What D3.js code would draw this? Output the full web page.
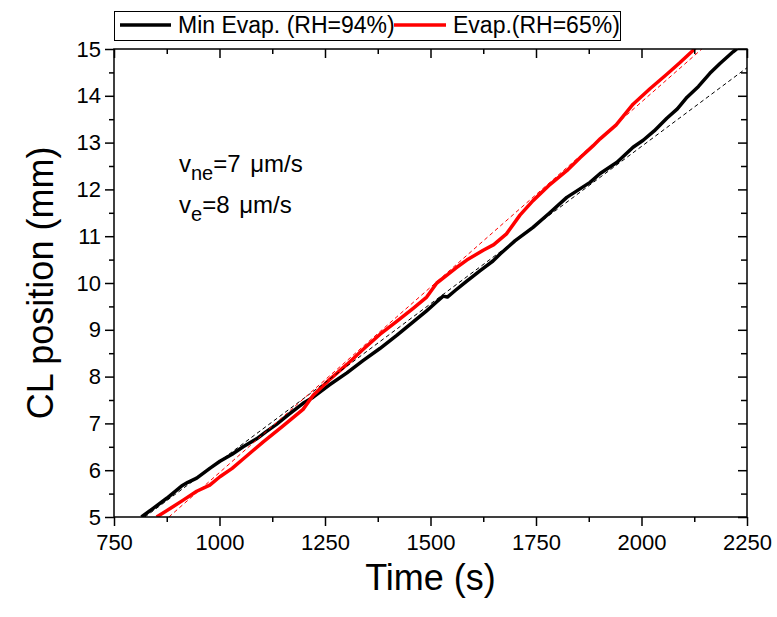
<!DOCTYPE html>
<html>
<head>
<meta charset="utf-8">
<script src="https://cdn.jsdelivr.net/npm/d3@7"></script>
<style>
  body { margin: 0; background: #fff; }
  svg { display: block; font-family: "Liberation Sans", Arial, sans-serif; }
</style>
</head>
<body>
<div id="container"></div>
<script>
// values
var blackT = [815, 842, 875, 910, 925, 946, 977, 1001, 1030, 1056, 1088, 1110, 1135, 1165, 1198, 1222, 1260, 1302, 1340, 1380, 1420, 1459, 1490, 1515, 1530, 1540, 1560, 1586, 1617, 1648, 1665, 1700, 1743, 1780, 1823, 1878, 1902, 1942, 1980, 2004, 2030, 2060, 2085, 2108, 2135, 2162, 2186, 2217, 2228];
var blackY = [5.0, 5.18, 5.4, 5.66, 5.74, 5.83, 6.04, 6.19, 6.34, 6.5, 6.67, 6.82, 6.98, 7.2, 7.43, 7.56, 7.82, 8.08, 8.34, 8.6, 8.88, 9.17, 9.4, 9.6, 9.72, 9.7, 9.85, 10.04, 10.26, 10.47, 10.62, 10.9, 11.19, 11.48, 11.83, 12.15, 12.34, 12.58, 12.9, 13.05, 13.25, 13.52, 13.72, 13.97, 14.2, 14.48, 14.69, 14.94, 15.02];
var redT = [851, 883, 914, 946, 977, 1001, 1030, 1056, 1103, 1150, 1198, 1222, 1260, 1302, 1340, 1380, 1420, 1459, 1491, 1515, 1539, 1560, 1586, 1625, 1650, 1680, 1712, 1743, 1780, 1823, 1855, 1885, 1902, 1940, 1980, 2020, 2060, 2090, 2122, 2128];
var redY = [5.0, 5.18, 5.36, 5.55, 5.68, 5.86, 6.04, 6.24, 6.6, 6.94, 7.3, 7.6, 7.93, 8.26, 8.58, 8.9, 9.18, 9.46, 9.7, 10.0, 10.17, 10.32, 10.49, 10.7, 10.82, 11.05, 11.45, 11.76, 12.08, 12.4, 12.68, 12.93, 13.08, 13.38, 13.82, 14.15, 14.46, 14.7, 14.97, 15.03];
// straight fits (end points)
var fitBlackT = [823, 2250];
var fitBlackY = [5.0, 14.6];
var fitRedT = [880, 2143];
var fitRedY = [5.0, 15.0];

var xTicks = [750, 1000, 1250, 1500, 1750, 2000, 2250];
var xMinor = [875, 1125, 1375, 1625, 1875, 2125];
var yTicks = [5, 6, 7, 8, 9, 10, 11, 12, 13, 14, 15];
var yMinor = [5.5, 6.5, 7.5, 8.5, 9.5, 10.5, 11.5, 12.5, 13.5, 14.5];

var seriesNames = ["Min Evap. (RH=94%)", "Evap.(RH=65%)"];
var seriesColors = ["#000000", "#ff0000"];

var width = 777, height = 617;
var margin = {left: 114, right: 30, top: 49, bottom: 100};
var pw = width - margin.left - margin.right;
var ph = height - margin.top - margin.bottom;

var svg = d3.select("#container").append("svg")
  .attr("width", width).attr("height", height);

var xScale = d3.scaleLinear().domain([750, 2250]).range([0, pw]);
var yScale = d3.scaleLinear().domain([5, 15]).range([ph, 0]);

var g = svg.append("g").attr("transform", "translate(" + margin.left + "," + margin.top + ")");

g.append("clipPath").attr("id", "clip")
  .append("rect").attr("width", pw).attr("height", ph);

var plot = g.append("g").attr("clip-path", "url(#clip)");

function toPts(ts, ys) { return ts.map(function(t, i) { return [t, ys[i]]; }); }
var line = d3.line().x(function(d) { return xScale(d[0]); }).y(function(d) { return yScale(d[1]); });

plot.append("path").datum(toPts(blackT, blackY))
  .attr("d", line).attr("fill", "none").attr("stroke", seriesColors[0])
  .attr("stroke-width", 3.5).attr("stroke-linejoin", "round");
plot.append("path").datum(toPts(redT, redY))
  .attr("d", line).attr("fill", "none").attr("stroke", seriesColors[1])
  .attr("stroke-width", 3.5).attr("stroke-linejoin", "round");

plot.append("path").datum(toPts(fitBlackT, fitBlackY))
  .attr("d", line).attr("fill", "none").attr("stroke", "#000")
  .attr("stroke-width", 1).attr("stroke-dasharray", "4,3");
plot.append("path").datum(toPts(fitRedT, fitRedY))
  .attr("d", line).attr("fill", "none").attr("stroke", "#ff0000")
  .attr("stroke-width", 1).attr("stroke-dasharray", "4,3");

// axes
function styleAxis(sel) {
  sel.select(".domain").remove();
  sel.selectAll("line").attr("stroke", "#000").attr("stroke-width", 1.5);
  sel.selectAll("text").attr("fill", "#000").style("font-size", "22px")
    .style("font-family", "'Liberation Sans', Arial, sans-serif");
}

g.append("g").attr("transform", "translate(0," + ph + ")")
  .call(d3.axisBottom(xScale).tickValues(xTicks).tickSize(9).tickPadding(8).tickFormat(d3.format("d")))
  .call(styleAxis);
g.append("g").attr("transform", "translate(0," + ph + ")")
  .call(d3.axisBottom(xScale).tickValues(xMinor).tickSize(5).tickFormat(""))
  .call(styleAxis);
g.append("g")
  .call(d3.axisLeft(yScale).tickValues(yTicks).tickSize(9).tickPadding(4).tickFormat(d3.format("d")))
  .call(styleAxis);
g.append("g")
  .call(d3.axisLeft(yScale).tickValues(yMinor).tickSize(5).tickFormat(""))
  .call(styleAxis);
// mirrored axes, ticks inward
g.append("g")
  .call(d3.axisBottom(xScale).tickValues(xTicks).tickSize(9).tickFormat(""))
  .call(styleAxis);
g.append("g")
  .call(d3.axisBottom(xScale).tickValues(xMinor).tickSize(5).tickFormat(""))
  .call(styleAxis);
g.append("g").attr("transform", "translate(" + pw + ",0)")
  .call(d3.axisLeft(yScale).tickValues(yTicks).tickSize(9).tickFormat(""))
  .call(styleAxis);
g.append("g").attr("transform", "translate(" + pw + ",0)")
  .call(d3.axisLeft(yScale).tickValues(yMinor).tickSize(6).tickFormat(""))
  .call(styleAxis);

g.append("rect").attr("width", pw).attr("height", ph)
  .attr("fill", "none").attr("stroke", "#000").attr("stroke-width", 1.5);

// axis titles
svg.append("text")
  .attr("x", margin.left + pw / 2).attr("y", 590)
  .attr("text-anchor", "middle").style("font-size", "36px").text("Time (s)");
svg.append("text")
  .attr("transform", "translate(53," + (margin.top + ph / 2) + ") rotate(-90)")
  .attr("text-anchor", "middle").style("font-size", "36px").text("CL position (mm)");

// annotation
var ann = svg.append("g").style("font-size", "24px");
var t1 = ann.append("text").attr("x", 179).attr("y", 172);
t1.append("tspan").text("v");
t1.append("tspan").attr("dy", 8).style("font-size", "20px").text("ne");
t1.append("tspan").attr("dy", -8).text("=7 ");
t1.append("tspan").attr("dx", 3).text("\u03bcm/s");
var t2 = ann.append("text").attr("x", 179).attr("y", 213);
t2.append("tspan").text("v");
t2.append("tspan").attr("dy", 8).style("font-size", "20px").text("e");
t2.append("tspan").attr("dy", -8).text("=8 ");
t2.append("tspan").attr("dx", 3).text("\u03bcm/s");

// legend
var leg = svg.append("g");
leg.append("rect").attr("x", 114.5).attr("y", 11.5).attr("width", 506).attr("height", 29)
  .attr("fill", "#fff").attr("stroke", "#000").attr("stroke-width", 1);
var legX = [[120, 171, 178], [394, 446, 453]];
seriesNames.forEach(function(name, i) {
  leg.append("line").attr("x1", legX[i][0]).attr("x2", legX[i][1]).attr("y1", 25).attr("y2", 25)
    .attr("stroke", seriesColors[i]).attr("stroke-width", 3.5);
  leg.append("text").attr("x", legX[i][2]).attr("y", 33).style("font-size", "23px").text(name);
});
</script>
</body>
</html>
